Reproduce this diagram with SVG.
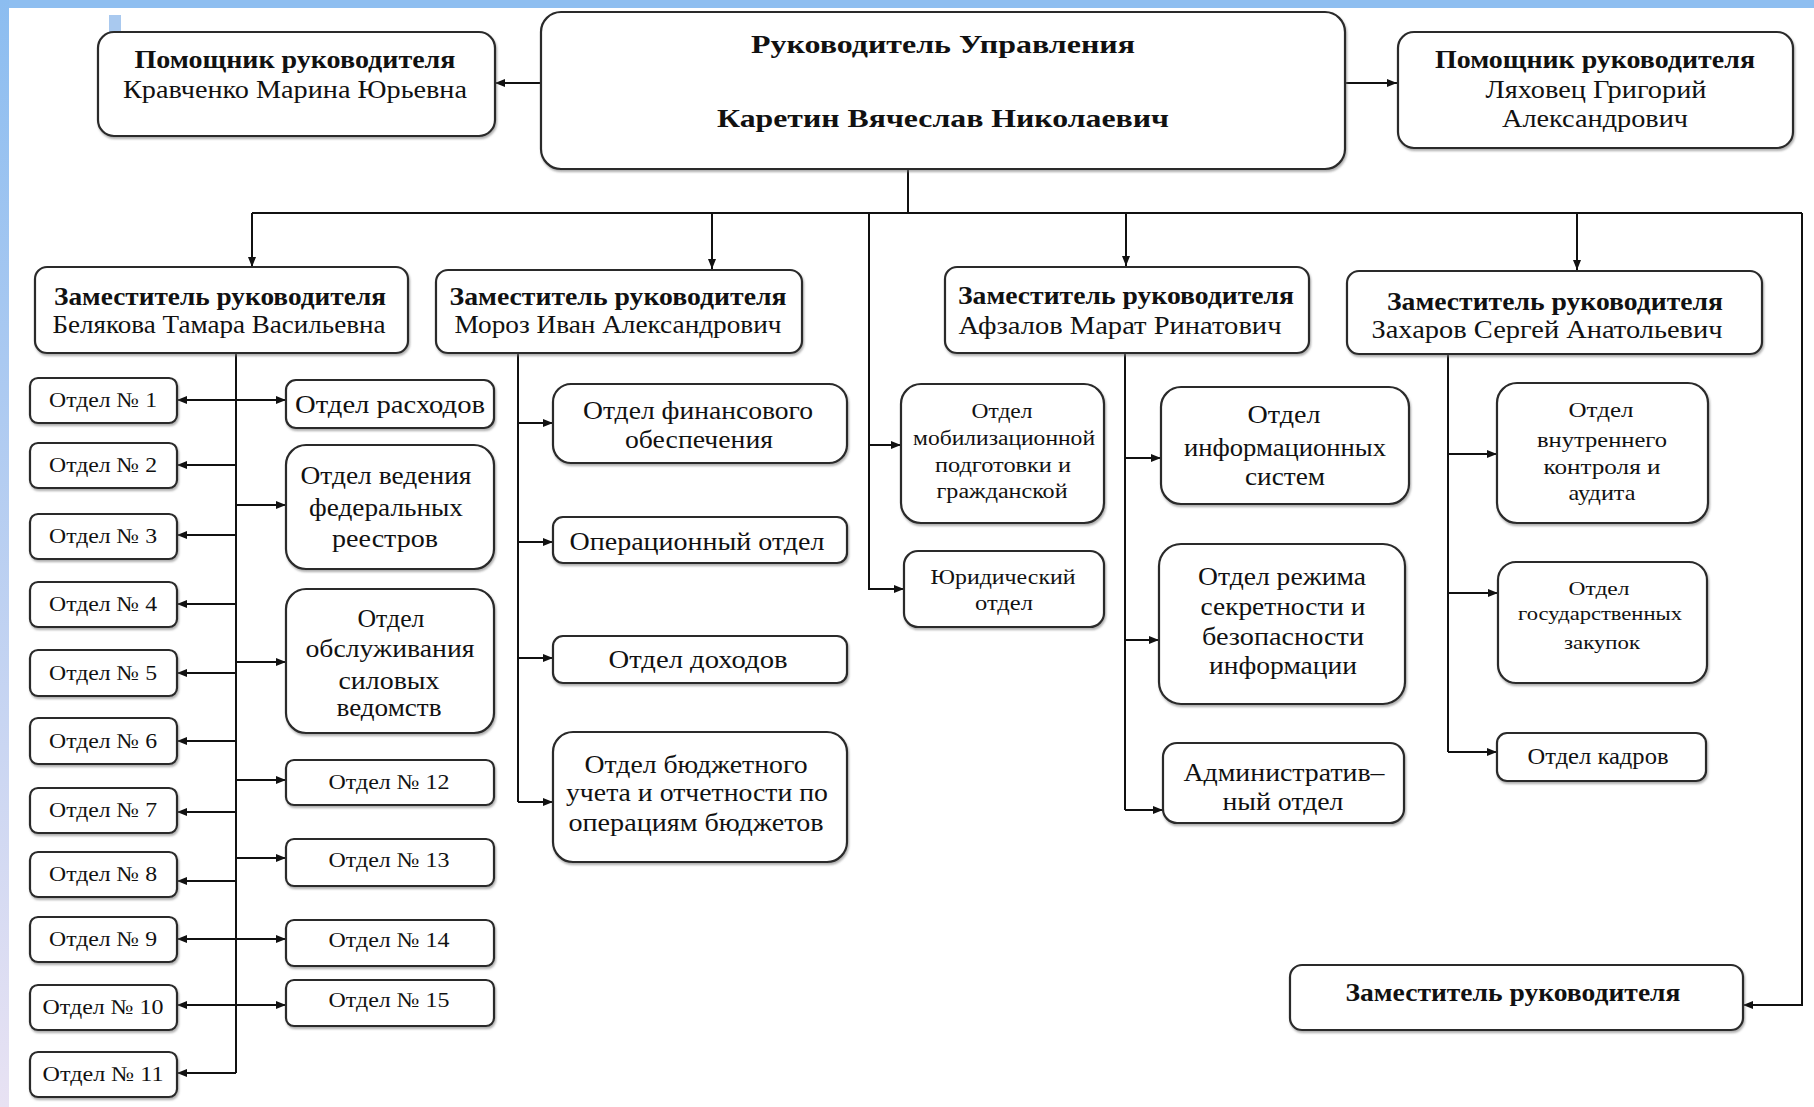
<svg xmlns="http://www.w3.org/2000/svg" width="1814" height="1107" viewBox="0 0 1814 1107">
<style>
.box{fill:#fff;stroke:#2a2a2a;stroke-width:2.2;filter:url(#sh)}
.t{font-family:"Liberation Serif","Times New Roman",serif;fill:#111;text-anchor:middle}
.b{font-weight:bold}
.ln{fill:none;stroke:#111;stroke-width:2}
.a{marker-end:url(#ah)}
.d{marker-start:url(#ah);marker-end:url(#ah)}
</style>
<defs>
<marker id="ah" viewBox="0 0 10 8" refX="10" refY="4" markerWidth="10" markerHeight="8" markerUnits="userSpaceOnUse" orient="auto-start-reverse"><path d="M0,0 L10,4 L0,8 z" fill="#111"/></marker>
<filter id="sh" x="-5%" y="-5%" width="110%" height="115%"><feDropShadow dx="1" dy="2" stdDeviation="1" flood-color="#777" flood-opacity="0.6"/></filter>
<linearGradient id="lg" x1="0" y1="0" x2="0" y2="1"><stop offset="0" stop-color="#8cbdf0"/><stop offset="1" stop-color="#e8e2f3"/></linearGradient>
</defs>
<rect x="0" y="0" width="1814" height="1107" fill="#fff"/>
<rect x="0" y="0" width="1814" height="8" fill="#8ebef0"/>
<rect x="0" y="0" width="9" height="1107" fill="url(#lg)"/>
<rect x="109" y="15" width="12" height="17" fill="#a9c9ef"/>

<g id="connectors">
<path class="ln a" d="M541,83 H495"/>
<path class="ln a" d="M1345,83 H1397"/>
<path class="ln" d="M908,169 V213"/>
<path class="ln" d="M252,213 H1802"/>
<path class="ln a" d="M1802,213 V1005 H1743"/>
<path class="ln a" d="M252,213 V267"/>
<path class="ln a" d="M712,213 V269"/>
<path class="ln a" d="M1126,213 V266"/>
<path class="ln a" d="M1577,213 V270"/>
<path class="ln a" d="M869,213 V589 H904"/>
<path class="ln a" d="M869,445 H901"/>
<path class="ln" d="M236,353 V1073"/>
<path class="ln d" d="M177,400 H286"/>
<path class="ln a" d="M236,465 H177"/>
<path class="ln a" d="M236,535 H177"/>
<path class="ln a" d="M236,604 H177"/>
<path class="ln a" d="M236,673 H177"/>
<path class="ln a" d="M236,741 H177"/>
<path class="ln a" d="M236,812 H177"/>
<path class="ln a" d="M236,881 H177"/>
<path class="ln d" d="M177,939 H286"/>
<path class="ln d" d="M177,1005 H286"/>
<path class="ln a" d="M236,1073 H177"/>
<path class="ln a" d="M236,505 H286"/>
<path class="ln a" d="M236,662 H286"/>
<path class="ln a" d="M236,780 H286"/>
<path class="ln a" d="M236,858 H286"/>
<path class="ln" d="M518,353 V802"/>
<path class="ln a" d="M518,423 H553"/>
<path class="ln a" d="M518,542 H553"/>
<path class="ln a" d="M518,658 H553"/>
<path class="ln a" d="M518,802 H553"/>
<path class="ln" d="M1125,353 V810"/>
<path class="ln a" d="M1125,458 H1161"/>
<path class="ln a" d="M1125,640 H1159"/>
<path class="ln a" d="M1125,810 H1163"/>
<path class="ln" d="M1448,354 V752"/>
<path class="ln a" d="M1448,454 H1497"/>
<path class="ln a" d="M1448,593 H1498"/>
<path class="ln a" d="M1448,752 H1497"/>
</g>

<g id="pom-left"><rect class="box" x="98" y="32" width="397" height="104" rx="16"/>
<text class="t b" x="295" y="68" font-size="25" textLength="321" lengthAdjust="spacingAndGlyphs">Помощник руководителя</text>
<text class="t" x="295" y="98" font-size="25" textLength="344" lengthAdjust="spacingAndGlyphs">Кравченко Марина Юрьевна</text></g>

<g id="head"><rect class="box" x="541" y="12" width="804" height="157" rx="20"/>
<text class="t b" x="943" y="53" font-size="26" textLength="384" lengthAdjust="spacingAndGlyphs">Руководитель Управления</text>
<text class="t b" x="943" y="127" font-size="26" textLength="452" lengthAdjust="spacingAndGlyphs">Каретин Вячеслав Николаевич</text></g>

<g id="pom-right"><rect class="box" x="1398" y="32" width="395" height="116" rx="16"/>
<text class="t b" x="1595" y="68" font-size="25" textLength="320" lengthAdjust="spacingAndGlyphs">Помощник руководителя</text>
<text class="t" x="1596" y="98" font-size="25" textLength="221" lengthAdjust="spacingAndGlyphs">Ляховец Григорий</text>
<text class="t" x="1595" y="127" font-size="25" textLength="186" lengthAdjust="spacingAndGlyphs">Александрович</text></g>

<g id="dep-belyakova"><rect class="box" x="35" y="267" width="373" height="86" rx="12"/>
<text class="t b" x="220" y="305" font-size="25" textLength="332" lengthAdjust="spacingAndGlyphs">Заместитель руководителя</text>
<text class="t" x="219" y="333" font-size="25" textLength="333" lengthAdjust="spacingAndGlyphs">Белякова Тамара Васильевна</text></g>

<g id="dep-moroz"><rect class="box" x="436" y="270" width="366" height="83" rx="12"/>
<text class="t b" x="618" y="305" font-size="25" textLength="337" lengthAdjust="spacingAndGlyphs">Заместитель руководителя</text>
<text class="t" x="618" y="333" font-size="25" textLength="327" lengthAdjust="spacingAndGlyphs">Мороз Иван Александрович</text></g>

<g id="dep-afzalov"><rect class="box" x="945" y="267" width="364" height="86" rx="12"/>
<text class="t b" x="1126" y="304" font-size="25" textLength="336" lengthAdjust="spacingAndGlyphs">Заместитель руководителя</text>
<text class="t" x="1120" y="334" font-size="25" textLength="323" lengthAdjust="spacingAndGlyphs">Афзалов Марат Ринатович</text></g>

<g id="dep-zakharov"><rect class="box" x="1347" y="271" width="415" height="83" rx="12"/>
<text class="t b" x="1555" y="310" font-size="25" textLength="336" lengthAdjust="spacingAndGlyphs">Заместитель руководителя</text>
<text class="t" x="1547" y="338" font-size="25" textLength="351" lengthAdjust="spacingAndGlyphs">Захаров Сергей Анатольевич</text></g>

<g id="otd1"><rect class="box" x="30" y="378" width="147" height="45" rx="8"/><text class="t" x="103" y="407" font-size="21" textLength="108" lengthAdjust="spacingAndGlyphs">Отдел № 1</text></g>
<g id="otd2"><rect class="box" x="30" y="443" width="147" height="45" rx="8"/><text class="t" x="103" y="472" font-size="21" textLength="108" lengthAdjust="spacingAndGlyphs">Отдел № 2</text></g>
<g id="otd3"><rect class="box" x="30" y="514" width="147" height="45" rx="8"/><text class="t" x="103" y="543" font-size="21" textLength="108" lengthAdjust="spacingAndGlyphs">Отдел № 3</text></g>
<g id="otd4"><rect class="box" x="30" y="582" width="147" height="45" rx="8"/><text class="t" x="103" y="611" font-size="21" textLength="108" lengthAdjust="spacingAndGlyphs">Отдел № 4</text></g>
<g id="otd5"><rect class="box" x="30" y="650" width="147" height="46" rx="8"/><text class="t" x="103" y="680" font-size="21" textLength="108" lengthAdjust="spacingAndGlyphs">Отдел № 5</text></g>
<g id="otd6"><rect class="box" x="30" y="718" width="147" height="46" rx="8"/><text class="t" x="103" y="748" font-size="21" textLength="108" lengthAdjust="spacingAndGlyphs">Отдел № 6</text></g>
<g id="otd7"><rect class="box" x="30" y="788" width="147" height="45" rx="8"/><text class="t" x="103" y="817" font-size="21" textLength="108" lengthAdjust="spacingAndGlyphs">Отдел № 7</text></g>
<g id="otd8"><rect class="box" x="30" y="852" width="147" height="45" rx="8"/><text class="t" x="103" y="881" font-size="21" textLength="108" lengthAdjust="spacingAndGlyphs">Отдел № 8</text></g>
<g id="otd9"><rect class="box" x="30" y="917" width="147" height="45" rx="8"/><text class="t" x="103" y="946" font-size="21" textLength="108" lengthAdjust="spacingAndGlyphs">Отдел № 9</text></g>
<g id="otd10"><rect class="box" x="30" y="985" width="147" height="45" rx="8"/><text class="t" x="103" y="1014" font-size="21" textLength="121" lengthAdjust="spacingAndGlyphs">Отдел № 10</text></g>
<g id="otd11"><rect class="box" x="30" y="1052" width="147" height="45" rx="8"/><text class="t" x="103" y="1081" font-size="21" textLength="121" lengthAdjust="spacingAndGlyphs">Отдел № 11</text></g>

<g id="rashod"><rect class="box" x="286" y="380" width="208" height="48" rx="10"/><text class="t" x="390" y="413" font-size="26" textLength="190" lengthAdjust="spacingAndGlyphs">Отдел расходов</text></g>
<g id="reestr"><rect class="box" x="286" y="445" width="208" height="124" rx="20"/>
<text class="t" x="386" y="484" font-size="26" textLength="171" lengthAdjust="spacingAndGlyphs">Отдел ведения</text>
<text class="t" x="386" y="516" font-size="26" textLength="154" lengthAdjust="spacingAndGlyphs">федеральных</text>
<text class="t" x="385" y="547" font-size="26" textLength="106" lengthAdjust="spacingAndGlyphs">реестров</text></g>
<g id="silov"><rect class="box" x="286" y="589" width="208" height="144" rx="20"/>
<text class="t" x="391" y="627" font-size="26" textLength="67" lengthAdjust="spacingAndGlyphs">Отдел</text>
<text class="t" x="390" y="657" font-size="26" textLength="169" lengthAdjust="spacingAndGlyphs">обслуживания</text>
<text class="t" x="389" y="689" font-size="26" textLength="101" lengthAdjust="spacingAndGlyphs">силовых</text>
<text class="t" x="389" y="716" font-size="26" textLength="105" lengthAdjust="spacingAndGlyphs">ведомств</text></g>
<g id="otd12"><rect class="box" x="286" y="760" width="208" height="45" rx="8"/><text class="t" x="389" y="789" font-size="21" textLength="121" lengthAdjust="spacingAndGlyphs">Отдел № 12</text></g>
<g id="otd13"><rect class="box" x="286" y="839" width="208" height="47" rx="8"/><text class="t" x="389" y="867" font-size="21" textLength="121" lengthAdjust="spacingAndGlyphs">Отдел № 13</text></g>
<g id="otd14"><rect class="box" x="286" y="920" width="208" height="46" rx="8"/><text class="t" x="389" y="947" font-size="21" textLength="121" lengthAdjust="spacingAndGlyphs">Отдел № 14</text></g>
<g id="otd15"><rect class="box" x="286" y="980" width="208" height="46" rx="8"/><text class="t" x="389" y="1007" font-size="21" textLength="121" lengthAdjust="spacingAndGlyphs">Отдел № 15</text></g>

<g id="fin"><rect class="box" x="553" y="384" width="294" height="79" rx="18"/>
<text class="t" x="698" y="419" font-size="25" textLength="230" lengthAdjust="spacingAndGlyphs">Отдел финансового</text>
<text class="t" x="699" y="448" font-size="25" textLength="148" lengthAdjust="spacingAndGlyphs">обеспечения</text></g>
<g id="oper"><rect class="box" x="553" y="517" width="294" height="46" rx="10"/>
<text class="t" x="697" y="550" font-size="25" textLength="255" lengthAdjust="spacingAndGlyphs">Операционный отдел</text></g>
<g id="dohod"><rect class="box" x="553" y="636" width="294" height="47" rx="10"/>
<text class="t" x="698" y="668" font-size="25" textLength="179" lengthAdjust="spacingAndGlyphs">Отдел доходов</text></g>
<g id="budget"><rect class="box" x="553" y="732" width="294" height="130" rx="20"/>
<text class="t" x="696" y="773" font-size="25" textLength="223" lengthAdjust="spacingAndGlyphs">Отдел бюджетного</text>
<text class="t" x="697" y="801" font-size="25" textLength="262" lengthAdjust="spacingAndGlyphs">учета и отчетности по</text>
<text class="t" x="696" y="831" font-size="25" textLength="255" lengthAdjust="spacingAndGlyphs">операциям бюджетов</text></g>

<g id="mobil"><rect class="box" x="901" y="384" width="203" height="139" rx="20"/>
<text class="t" x="1002" y="418" font-size="20" textLength="61" lengthAdjust="spacingAndGlyphs">Отдел</text>
<text class="t" x="1004" y="445" font-size="20" textLength="182" lengthAdjust="spacingAndGlyphs">мобилизационной</text>
<text class="t" x="1003" y="472" font-size="20" textLength="136" lengthAdjust="spacingAndGlyphs">подготовки и</text>
<text class="t" x="1002" y="498" font-size="20" textLength="131" lengthAdjust="spacingAndGlyphs">гражданской</text></g>
<g id="yurid"><rect class="box" x="904" y="551" width="200" height="76" rx="14"/>
<text class="t" x="1003" y="584" font-size="22" textLength="145" lengthAdjust="spacingAndGlyphs">Юридический</text>
<text class="t" x="1004" y="610" font-size="22" textLength="58" lengthAdjust="spacingAndGlyphs">отдел</text></g>

<g id="infsys"><rect class="box" x="1161" y="387" width="248" height="117" rx="20"/>
<text class="t" x="1284" y="423" font-size="25" textLength="73" lengthAdjust="spacingAndGlyphs">Отдел</text>
<text class="t" x="1285" y="456" font-size="25" textLength="202" lengthAdjust="spacingAndGlyphs">информационных</text>
<text class="t" x="1285" y="485" font-size="25" textLength="80" lengthAdjust="spacingAndGlyphs">систем</text></g>
<g id="secret"><rect class="box" x="1159" y="544" width="246" height="160" rx="22"/>
<text class="t" x="1282" y="585" font-size="25" textLength="168" lengthAdjust="spacingAndGlyphs">Отдел режима</text>
<text class="t" x="1283" y="615" font-size="25" textLength="165" lengthAdjust="spacingAndGlyphs">секретности и</text>
<text class="t" x="1283" y="645" font-size="25" textLength="162" lengthAdjust="spacingAndGlyphs">безопасности</text>
<text class="t" x="1283" y="674" font-size="25" textLength="148" lengthAdjust="spacingAndGlyphs">информации</text></g>
<g id="admin"><rect class="box" x="1163" y="743" width="241" height="80" rx="14"/>
<text class="t" x="1284" y="781" font-size="25" textLength="201" lengthAdjust="spacingAndGlyphs">Административ–</text>
<text class="t" x="1283" y="810" font-size="25" textLength="121" lengthAdjust="spacingAndGlyphs">ный отдел</text></g>

<g id="audit"><rect class="box" x="1497" y="383" width="211" height="140" rx="20"/>
<text class="t" x="1601" y="417" font-size="22" textLength="65" lengthAdjust="spacingAndGlyphs">Отдел</text>
<text class="t" x="1602" y="447" font-size="22" textLength="130" lengthAdjust="spacingAndGlyphs">внутреннего</text>
<text class="t" x="1602" y="474" font-size="22" textLength="117" lengthAdjust="spacingAndGlyphs">контроля и</text>
<text class="t" x="1602" y="500" font-size="22" textLength="67" lengthAdjust="spacingAndGlyphs">аудита</text></g>
<g id="zakup"><rect class="box" x="1498" y="562" width="209" height="121" rx="18"/>
<text class="t" x="1599" y="595" font-size="19" textLength="61" lengthAdjust="spacingAndGlyphs">Отдел</text>
<text class="t" x="1600" y="620" font-size="19" textLength="164" lengthAdjust="spacingAndGlyphs">государственных</text>
<text class="t" x="1602" y="649" font-size="19" textLength="76" lengthAdjust="spacingAndGlyphs">закупок</text></g>
<g id="kadry"><rect class="box" x="1497" y="733" width="209" height="48" rx="10"/>
<text class="t" x="1598" y="764" font-size="24" textLength="141" lengthAdjust="spacingAndGlyphs">Отдел кадров</text></g>

<g id="dep-bottom"><rect class="box" x="1290" y="965" width="453" height="65" rx="12"/>
<text class="t b" x="1513" y="1001" font-size="25" textLength="335" lengthAdjust="spacingAndGlyphs">Заместитель руководителя</text></g>
</svg>
